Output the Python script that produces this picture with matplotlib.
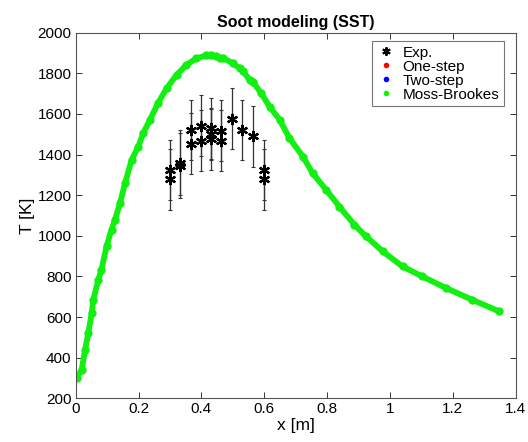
import matplotlib
matplotlib.use("Agg")
import matplotlib.pyplot as plt
from matplotlib.lines import Line2D

plt.rcParams['font.family'] = ['Liberation Sans', 'DejaVu Sans']

# Moss-Brookes simulation
mb_x = [0.003, 0.019, 0.030, 0.040, 0.051, 0.056, 0.072, 0.082, 0.098, 0.114,
        0.125, 0.141, 0.157, 0.178, 0.199, 0.215, 0.236, 0.262, 0.289, 0.321,
        0.352, 0.384, 0.416, 0.432, 0.445, 0.458, 0.469, 0.500, 0.522, 0.532,
        0.553, 0.564, 0.590, 0.617, 0.649, 0.680, 0.723, 0.754, 0.797, 0.839,
        0.887, 0.924, 0.977, 1.040, 1.103, 1.178, 1.262, 1.347]
mb_T = [300, 341, 439, 521, 620, 685, 784, 833, 948, 1030,
        1079, 1161, 1259, 1374, 1439, 1505, 1571, 1653, 1726, 1792,
        1841, 1874, 1888, 1892, 1884, 1874, 1876, 1849, 1825, 1813,
        1767, 1759, 1702, 1636, 1571, 1481, 1390, 1308, 1226, 1144,
        1054, 997, 923, 849, 800, 743, 685, 628]

# Experimental data
exp_x = [0.299, 0.299, 0.333, 0.333, 0.366, 0.366, 0.398, 0.398, 0.432, 0.432,
         0.430, 0.463, 0.463, 0.498, 0.529, 0.564, 0.599, 0.599]
exp_T = [1324, 1279, 1360, 1344, 1521, 1453, 1541, 1467, 1530, 1476,
         1501, 1518, 1467, 1576, 1521, 1489, 1324, 1279]
exp_err = [150, 150, 160, 160, 150, 150, 150, 150, 150, 150,
           127, 150, 150, 150, 150, 150, 150, 150]

fig = plt.figure(figsize=(5.28, 4.42), dpi=100)
ax = fig.add_axes([0.1434, 0.0989, 0.8333, 0.8271])

green = '#11f011'
ax.plot(mb_x, mb_T, '-', color=green, lw=4.2, solid_capstyle='round',
        solid_joinstyle='round', zorder=2)
ax.plot(mb_x, mb_T, 'o', color=green, ms=6, mec='none', zorder=2)

ax.errorbar(exp_x, exp_T, yerr=exp_err, fmt='none', ecolor='#333333',
            elinewidth=0.9, capsize=1.5, capthick=0.8, zorder=3)
ax.plot(exp_x, exp_T, linestyle='none', marker=(6, 2, 0), ms=8, mew=1.6,
        color='black', zorder=4)

handles = [
    Line2D([], [], linestyle='none', marker=(6, 2, 0), ms=6, mew=1.4, color='black'),
    Line2D([], [], linestyle='none', marker='o', ms=4, color='red', mec='none'),
    Line2D([], [], linestyle='none', marker='o', ms=4, color='blue', mec='none'),
    Line2D([], [], linestyle='none', marker='o', ms=4, color=green, mec='none'),
]
labels = ['Exp.', 'One-step', 'Two-step', 'Moss-Brookes']
leg = ax.legend(handles, labels, loc='upper right', fontsize=11, frameon=True,
                fancybox=False, edgecolor='#555555', handlelength=1.2,
                handletextpad=0.5, borderpad=0.3, labelspacing=0.0,
                borderaxespad=0, bbox_to_anchor=(0.973, 0.977))
leg.get_frame().set_linewidth(0.8)

ax.set_xlim(0, 1.4)
ax.set_ylim(200, 2000)
ax.set_xticks([0, 0.2, 0.4, 0.6, 0.8, 1, 1.2, 1.4])
ax.set_xticklabels(['0', '0.2', '0.4', '0.6', '0.8', '1', '1.2', '1.4'])
ax.set_yticks(range(200, 2001, 200))
ax.tick_params(direction='in', top=True, right=True, length=4, width=0.7,
               labelsize=11, colors='#333333', labelcolor='black', pad=3)
for s in ax.spines.values():
    s.set_linewidth(0.8)
    s.set_color('#555555')

ax.set_xlabel('x [m]', fontsize=12.5, labelpad=1)
ax.set_ylabel('T [K]', fontsize=12.5, labelpad=2)
ax.set_title('Soot modeling (SST)', fontsize=11.5, fontweight='bold', pad=4)

fig.savefig('out.png', dpi=100)
